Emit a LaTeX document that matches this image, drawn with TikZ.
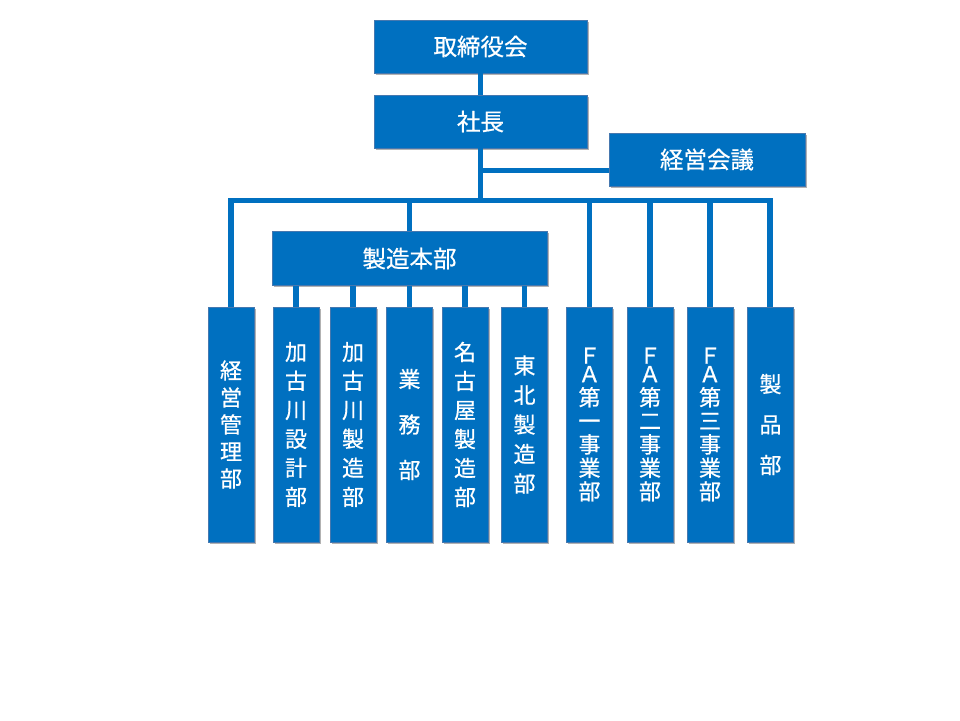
\documentclass[tikz,border=0pt]{standalone}
\usepackage{fontspec}
\newfontfamily\jp[FakeBold=0.6]{Noto Sans CJK JP}
\usetikzlibrary{shadows}
\definecolor{orgblue}{RGB}{0,112,192}
\definecolor{orgedge}{RGB}{70,120,175}
\tikzset{
  box/.style={fill=orgblue, draw=orgedge, line width=0.7pt, text=white, inner sep=0pt,
    font=\jp\fontsize{23.5}{27}\selectfont,
    drop shadow={shadow xshift=1.8pt, shadow yshift=-1.8pt, opacity=0.3, fill=black}},
  vbox/.style={box, minimum width=46pt, minimum height=235pt, align=center},
  link/.style={draw=orgblue, line width=5.5pt},
  vs/.style={font=\jp\fontsize{22}{#1}\selectfont}
}
\begin{document}
\begin{tikzpicture}[x=1pt,y=-1pt]
\useasboundingbox (0,0) rectangle (960,720);
% coordinates for connectors
\coordinate (busL) at (231,200.5);
\coordinate (busR) at (770,200.5);
\coordinate (br) at (480,170.5);

% nodes
\node[box, minimum width=213pt, minimum height=53pt] (top) at (480.5,46.5) {取締役会};
\node[box, minimum width=213pt, minimum height=53pt] (pres) at (480.5,121.5) {社長};
\node[box, minimum width=196pt, minimum height=53pt] (council) at (707,159.5) {経営会議};
\node[box, minimum width=275pt, minimum height=54pt] (mfg) at (409.5,258.5) {製造本部};

\node[vbox, vs=27] (k1) at (231,424.5) {経\\営\\管\\理\\部};
\node[vbox, vs=29] (d1) at (296,424.5) {加\\古\\川\\設\\計\\部};
\node[vbox, vs=29] (d2) at (353,424.5) {加\\古\\川\\製\\造\\部};
\node[vbox, vs=45.5] (d3) at (409.5,424.5) {業\\務\\部};
\node[vbox, vs=29] (d4) at (465,424.5) {名\\古\\屋\\製\\造\\部};
\node[vbox, vs=29.5] (d5) at (524.5,424.5) {東\\北\\製\\造\\部};
\node[vbox, vs=23.5] (f1) at (589.5,424.5) {Ｆ\\[-5pt]Ａ\\第\\一\\事\\業\\部};
\node[vbox, vs=23.5] (f2) at (650,424.5) {Ｆ\\[-5pt]Ａ\\第\\二\\事\\業\\部};
\node[vbox, vs=23.5] (f3) at (710,424.5) {Ｆ\\[-5pt]Ａ\\第\\三\\事\\業\\部};
\node[vbox, vs=40.5] (p1) at (770.5,424.5) {製\\品\\部};

% connectors
\draw[link] (top.south) -- (pres.north);
\draw[link] (pres.south) -- (pres.south |- busL);
\draw[link] (pres.south |- br) -- (council.west |- br);
\draw[link, line join=miter] (k1.north) -- (busL) -- (busR) -- (p1.north -| busR);
\foreach \n in {mfg,f1,f2,f3}
  \draw[link] (\n.north) -- (\n.north |- busL);
\foreach \n in {d1,d2,d3,d4,d5}
  \draw[link] (\n.north) -- (\n.north |- mfg.south);
\end{tikzpicture}
\end{document}
